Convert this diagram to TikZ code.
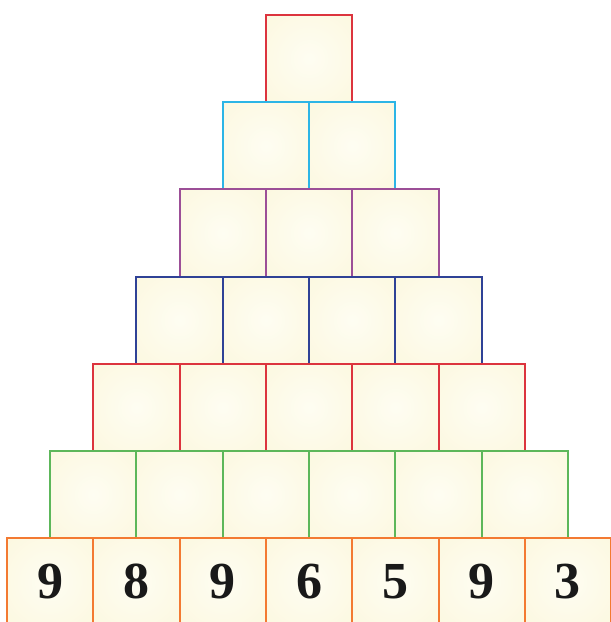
\documentclass[tikz,border=0pt]{standalone}
\usepackage{fontspec}
\setmainfont{Liberation Serif}
\definecolor{cream}{RGB}{252,248,224}
\definecolor{creamlight}{RGB}{254,253,242}
\definecolor{rowred}{RGB}{220,52,62}
\definecolor{rowcyan}{RGB}{44,181,230}
\definecolor{rowpurple}{RGB}{156,79,151}
\definecolor{rowblue}{RGB}{47,66,150}
\definecolor{rowgreen}{RGB}{93,183,90}
\definecolor{roworange}{RGB}{243,122,50}
\pgfdeclareradialshading{cellglow}{\pgfpoint{0bp}{0bp}}{color(0bp)=(creamlight); color(36bp)=(cream); color(50bp)=(cream)}
\tikzset{
  cell/.style={draw, line width=2pt, minimum width=86.3pt, minimum height=87.2pt, inner sep=0pt, anchor=north west, shading=cellglow},
  digit/.style={font=\fontsize{52}{52}\selectfont\bfseries, text=black!90}
}

\begin{document}
\begin{tikzpicture}[x=1pt, y=-1pt]
\clip (0,0) rectangle (611,622);
% upper rows
\foreach \r/\col in {0/rowred,1/rowcyan,2/rowpurple,3/rowblue,4/rowred,5/rowgreen}{
  \foreach \c in {0,...,\r}{
    \node[cell, draw=\col] (b\r-\c) at ({6+(6-\r)*43.15+\c*86.3},{14+\r*87.2}) {};
  }
}
% bottom row
\foreach \c/\n in {0/9,1/8,2/9,3/6,4/5,5/9,6/3}{
  \node[cell, draw=roworange] (b6-\c) at ({6+\c*86.3},537.2) {};
  \node[digit] (n\c) at (b6-\c.center) {\n};
}
\end{tikzpicture}
\end{document}
